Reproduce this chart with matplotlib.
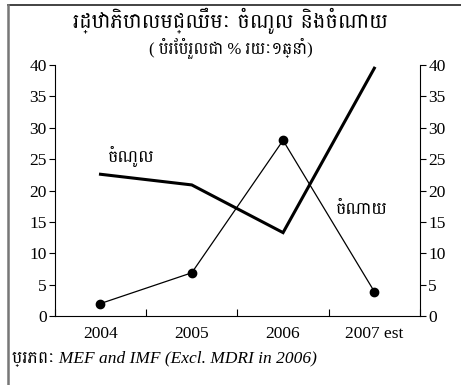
import matplotlib.pyplot as plt
import matplotlib.lines as mlines

years = ["2004", "2005", "2006", "2007 est"]
revenue = [22.6, 20.9, 13.3, 39.5]
expenditure = [2.0, 6.9, 28.0, 3.9]

title = "រដ្ឋាភិបាលមជ្ឈឹមៈ ចំណូល និងចំណាយ"
subtitle = "( បំរែបំរួលជា % រយៈ១ឆ្នាំ)"
revenue_label = "ចំណូល"
expenditure_label = "ចំណាយ"
source = "ប្រភពៈ MEF and IMF (Excl. MDRI in 2006)"

plt.rcParams["font.family"] = ["Liberation Serif", "Battambang", "DejaVu Serif"]
khmer = ["Battambang", "Liberation Serif"]

fig = plt.figure(figsize=(4.61, 3.85), dpi=100)
ax = fig.add_axes([0.119, 0.179, 0.792, 0.652])

x = list(range(len(years)))
ax.plot(x, revenue, color="black", lw=2.2, solid_joinstyle="miter")
ax.plot(x, expenditure, color="black", lw=0.9, marker="o", ms=6)

ax.set_xlim(-0.5, len(years) - 0.5)
ax.set_ylim(0, 40)
ax.set_yticks(range(0, 41, 5))
ax.set_xticks([i - 0.5 for i in range(len(years) + 1)])
ax.set_xticklabels([])
ax.set_xticks(x, minor=True)
ax.set_xticklabels(years, minor=True)
ax.tick_params(axis="x", which="major", direction="in", length=5, width=0.8)
ax.tick_params(axis="x", which="minor", length=0, labelsize=12.5, pad=7)
ax.tick_params(axis="y", direction="out", length=4, width=0.8, labelsize=12.5,
               right=True, labelright=True, pad=2)
ax.spines["top"].set_visible(False)
for s in ["left", "right", "bottom"]:
    ax.spines[s].set_linewidth(0.8)

ax.text(0.08, 23.8, revenue_label, fontsize=12.5, family=khmer, ha="left", va="bottom")
ax.text(2.58, 15.8, expenditure_label, fontsize=12.5, family=khmer, ha="left", va="bottom")

fig.text(0.5, 0.946, title, fontsize=15, family=khmer, ha="center", va="center")
fig.text(0.5, 0.877, subtitle, fontsize=12, ha="center", va="center")
fig.text(0.025, 0.068, source, fontsize=12.5, style="italic", ha="left", va="center")

# frame: top and left edges only
fig.add_artist(mlines.Line2D([0.018, 1.0], [0.987, 0.987], color="#222222", lw=1.2,
                             transform=fig.transFigure))
fig.add_artist(mlines.Line2D([0.018, 0.018], [0.0, 0.987], color="#777777", lw=1.8,
                             transform=fig.transFigure))

fig.savefig("out.png", dpi=100)
